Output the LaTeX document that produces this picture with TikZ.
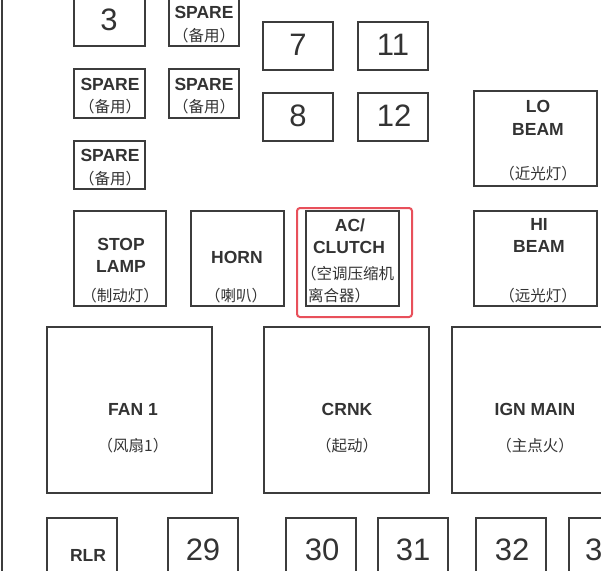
\documentclass[tikz,border=0pt]{standalone}
\usepackage{fontspec}
\setmainfont{Liberation Sans}
\newfontfamily\cjk{Noto Sans CJK SC}
\usetikzlibrary{fit}
\definecolor{ink}{HTML}{333333}
\definecolor{edge}{HTML}{3C3C3C}
\definecolor{hl}{HTML}{E8505B}
\begin{document}
\begin{tikzpicture}[x=1pt,y=-1pt,
  box/.style={draw=edge, line width=1.9pt, inner sep=0pt},
  num/.style={text=ink, inner sep=0pt, font=\fontsize{31}{31}\selectfont},
  lab/.style={text=ink, inner sep=0pt, font=\bfseries\fontsize{17.5}{21}\selectfont},
  spare/.style={text=ink, inner sep=0pt, font=\bfseries\fontsize{17.5}{20}\selectfont},
  zh/.style={text=ink, inner sep=0pt, font=\cjk\fontsize{15.5}{18}\selectfont},
  hlbox/.style={draw=hl, line width=2pt, rounded corners=3pt, inner sep=0pt}]
\useasboundingbox (0,0) rectangle (601,570);
\fill[white] (0,0) rectangle (601,570);
% left rail
\coordinate (railtop) at (2,-5);
\coordinate (railbot) at (2,575);
\draw[edge, line width=2pt] (railtop) -- (railbot);
% boxes
\node[box, fit={(74,-10) (145,46)}] (b3) {};
\node[box, fit={(169,-10) (239,46)}] (bsp1) {};
\node[box, fit={(74,69) (145,118)}] (bsp2) {};
\node[box, fit={(169,69) (239,118)}] (bsp3) {};
\node[box, fit={(74,141) (145,189)}] (bsp4) {};
\node[box, fit={(263,22) (333,70)}] (b7) {};
\node[box, fit={(358,22) (428,70)}] (b11) {};
\node[box, fit={(263,93) (333,141)}] (b8) {};
\node[box, fit={(358,93) (428,141)}] (b12) {};
\node[box, fit={(474,91) (597,186)}] (blo) {};
\node[box, fit={(74,211) (166,306)}] (bstop) {};
\node[box, fit={(191,211) (284,306)}] (bhorn) {};
\node[box, fit={(306,211) (399,306)}] (bac) {};
\node[box, fit={(474,211) (597,306)}] (bhi) {};
\node[hlbox, fit={(297,208) (412,317)}] (hlac) {};
\node[box, fit={(47,327) (212,493)}] (bfan) {};
\node[box, fit={(264,327) (429,493)}] (bcrnk) {};
\node[box, fit={(452,327) (620,493)}] (bign) {};
\node[box, fit={(47,518) (117,600)}] (brlr) {};
\node[box, fit={(168,518) (238,600)}] (b29) {};
\node[box, fit={(286,518) (356,600)}] (b30) {};
\node[box, fit={(378,518) (448,600)}] (b31) {};
\node[box, fit={(476,518) (546,600)}] (b32) {};
\node[box, fit={(569,518) (640,600)}] (b33) {};
% texts
\node[num] (t3) at (109,20) {3};
\node[spare] (tsp1a) at (204,12) {SPARE};
\node[zh] (tsp1b) at (204,36) {（备用）};
\node[spare] (tsp2a) at (110,84) {SPARE};
\node[zh] (tsp2b) at (110,107) {（备用）};
\node[spare] (tsp3a) at (204,84) {SPARE};
\node[zh] (tsp3b) at (204,107) {（备用）};
\node[spare] (tsp4a) at (110,155) {SPARE};
\node[zh] (tsp4b) at (110,179) {（备用）};
\node[num] (t7) at (298,45) {7};
\node[num] (t11) at (393,45) {11};
\node[num] (t8) at (298,116) {8};
\node[num] (t12) at (394,116) {12};
\node[lab] (tlo1) at (538,106) {LO};
\node[lab] (tlo2) at (538,129) {BEAM};
\node[zh] (tlo3) at (538,174) {（近光灯）};
\node[lab] (tst1) at (121,244) {STOP};
\node[lab] (tst2) at (121,266) {LAMP};
\node[zh] (tst3) at (120,296) {（制动灯）};
\node[lab] (tho1) at (237,257) {HORN};
\node[zh] (tho2) at (236,296) {（喇叭）};
\node[lab] (tac1) at (350,225) {AC/};
\node[lab] (tac2) at (349,247) {CLUTCH};
\node[zh, anchor=west] (tac3) at (301,274) {（空调压缩机};
\node[zh, anchor=west] (tac4) at (308,296) {离合器）};
\node[lab] (thi1) at (539,224) {HI};
\node[lab] (thi2) at (539,246) {BEAM};
\node[zh] (thi3) at (538,296) {（远光灯）};
\node[lab] (tfan1) at (133,409) {FAN 1};
\node[zh] (tfan2) at (133,446) {（风扇1）};
\node[lab] (tcr1) at (347,409) {CRNK};
\node[zh] (tcr2) at (347,446) {（起动）};
\node[lab] (tign1) at (535,409) {IGN MAIN};
\node[zh] (tign2) at (535,446) {（主点火）};
\node[lab] (trlr) at (88,555) {RLR};
\node[num] (t29) at (203,550) {29};
\node[num] (t30) at (322,550) {30};
\node[num] (t31) at (413,550) {31};
\node[num] (t32) at (512,550) {32};
\node[num, anchor=west] (t33) at (585,550) {33};
\end{tikzpicture}
\end{document}
